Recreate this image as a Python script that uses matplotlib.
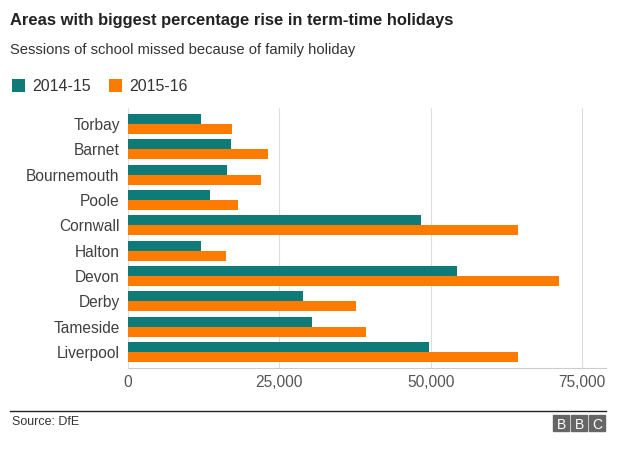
import numpy as np
import matplotlib
matplotlib.use("Agg")
import matplotlib.pyplot as plt
from matplotlib.patches import Rectangle
from matplotlib.lines import Line2D

plt.rcParams['font.family'] = ['Liberation Sans', 'DejaVu Sans']

areas = ['Torbay', 'Barnet', 'Bournemouth', 'Poole', 'Cornwall',
         'Halton', 'Devon', 'Derby', 'Tameside', 'Liverpool']
sessions_1415 = [12100, 17000, 16300, 13600, 48400, 12100, 54400, 28900, 30400, 49700]
sessions_1516 = [17200, 23200, 21900, 18200, 64400, 16200, 71200, 37700, 39400, 64400]
xticks = [0, 25000, 50000, 75000]
xtick_labels = ['0', '25,000', '50,000', '75,000']

teal = '#0e7b79'
orange = '#fd7c00'

fig = plt.figure(figsize=(6.4, 4.55), dpi=100)
ax = fig.add_axes([0.2, 0.1912, 0.747, 0.5714])

y = np.arange(len(areas))
h = 0.39
ax.barh(y - 0.2, sessions_1415, height=h, color=teal, label='2014-15', zorder=3)
ax.barh(y + 0.2, sessions_1516, height=h, color=orange, label='2015-16', zorder=3)

ax.set_ylim(9.63, -0.63)
ax.set_xlim(0, 79000)
ax.set_yticks(y)
ax.set_yticklabels(areas, fontsize=11.2, color='#404040')
ax.set_xticks(xticks)
ax.set_xticklabels(xtick_labels, fontsize=11.2, color='#555555')
ax.tick_params(axis='both', length=0)
ax.tick_params(axis='y', pad=6)
ax.tick_params(axis='x', pad=5)
ax.grid(axis='x', color='#dddddd', linewidth=0.8, zorder=0)
for s in ['top', 'right', 'left']:
    ax.spines[s].set_visible(False)
ax.spines['bottom'].set_color('#cccccc')

fig.text(0.016, 0.955, 'Areas with biggest percentage rise in term-time holidays',
         fontsize=11.9, fontweight='bold', color='#222222', va='center')
fig.text(0.016, 0.89, 'Sessions of school missed because of family holiday',
         fontsize=10.6, color='#333333', va='center')

fig.legend(loc='center left', bbox_to_anchor=(-0.004, 0.81), ncol=2, frameon=False,
           fontsize=11.5, handlelength=0.82, handleheight=0.82, handletextpad=0.45,
           columnspacing=1.13, labelcolor='#333333')

fig.add_artist(Line2D([0.016, 0.947], [1 - 410.5 / 455, 1 - 410.5 / 455],
                      color='#222222', linewidth=1.0))
fig.text(0.018, 1 - 422 / 455, 'Source: DfE', fontsize=9, color='#333333', va='center')

for i, letter in enumerate('BBC'):
    x0 = (553 + i * 18) / 640
    fig.add_artist(Rectangle((x0, 1 - 431 / 455), 16 / 640, 16 / 455,
                             transform=fig.transFigure, color='#666666'))
    fig.text(x0 + 8 / 640, 1 - 423.5 / 455, letter, fontsize=10,
             color='white', ha='center', va='center_baseline')

fig.savefig('out.png', dpi=100, facecolor='white')
